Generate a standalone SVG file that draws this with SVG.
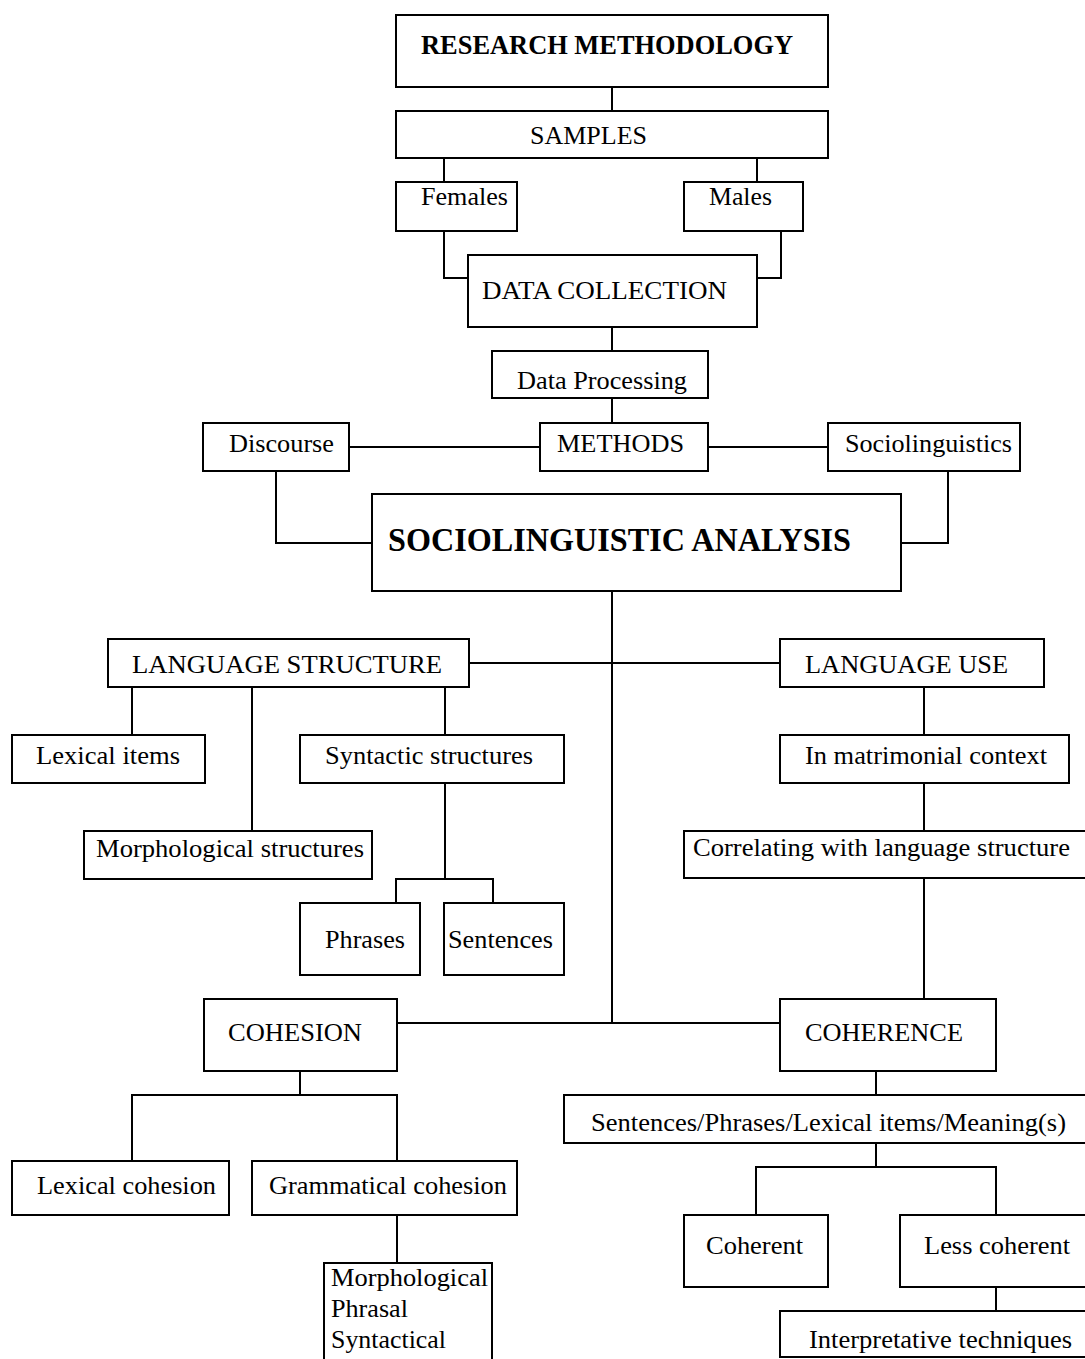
<svg xmlns="http://www.w3.org/2000/svg" width="1085" height="1359" viewBox="0 0 1085 1359">
<style>
.box{fill:#fff;stroke:#000;stroke-width:2}
.ln{fill:none;stroke:#000;stroke-width:2}
text{font-family:"Liberation Serif","Times New Roman",serif;font-size:26px;fill:#000}
.b{font-weight:bold;font-size:27px}
.big{font-weight:bold;font-size:34px}
</style>
<rect width="1085" height="1359" fill="#fff"/>
<g id="connectors">
<path class="ln" d="M612,87V111"/>
<path class="ln" d="M444,158V182M757,158V182"/>
<path class="ln" d="M444,231V278H468M781,231V278H757"/>
<path class="ln" d="M612,327V351M612,398V423"/>
<path class="ln" d="M349,447H540M708,447H828"/>
<path class="ln" d="M276,471V543H372M948,471V543H901"/>
<path class="ln" d="M612,591V1023"/>
<path class="ln" d="M469,663H780"/>
<path class="ln" d="M132,687V735M252,687V831M445,687V735"/>
<path class="ln" d="M445,783V879M396,903V879H493V903"/>
<path class="ln" d="M924,687V735M924,783V831M924,878V999"/>
<path class="ln" d="M397,1023H780"/>
<path class="ln" d="M300,1071V1095M132,1161V1095H397V1161"/>
<path class="ln" d="M397,1215V1263"/>
<path class="ln" d="M876,1071V1095M876,1143V1167M756,1215V1167H996V1215"/>
<path class="ln" d="M996,1287V1311"/>
</g>
<g id="research"><rect class="box" x="396" y="15" width="432" height="72"/><text class="b" x="421" y="54" textLength="372" lengthAdjust="spacingAndGlyphs">RESEARCH METHODOLOGY</text></g>
<g id="samples"><rect class="box" x="396" y="111" width="432" height="47"/><text x="530" y="144" textLength="117" lengthAdjust="spacingAndGlyphs">SAMPLES</text></g>
<g id="females"><rect class="box" x="396" y="182" width="121" height="49"/><text x="421" y="205" textLength="87" lengthAdjust="spacingAndGlyphs">Females</text></g>
<g id="males"><rect class="box" x="684" y="182" width="119" height="49"/><text x="709" y="205" textLength="63" lengthAdjust="spacingAndGlyphs">Males</text></g>
<g id="datacollection"><rect class="box" x="468" y="255" width="289" height="72"/><text x="482" y="299" textLength="245" lengthAdjust="spacingAndGlyphs">DATA COLLECTION</text></g>
<g id="dataprocessing"><rect class="box" x="492" y="351" width="216" height="47"/><text x="517" y="389" textLength="170" lengthAdjust="spacingAndGlyphs">Data Processing</text></g>
<g id="discourse"><rect class="box" x="203" y="423" width="146" height="48"/><text x="229" y="452" textLength="105" lengthAdjust="spacingAndGlyphs">Discourse</text></g>
<g id="methods"><rect class="box" x="540" y="423" width="168" height="48"/><text x="557" y="452" textLength="127" lengthAdjust="spacingAndGlyphs">METHODS</text></g>
<g id="sociolinguistics"><rect class="box" x="828" y="423" width="192" height="48"/><text x="845" y="452" textLength="167" lengthAdjust="spacingAndGlyphs">Sociolinguistics</text></g>
<g id="analysis"><rect class="box" x="372" y="494" width="529" height="97"/><text class="big" x="388" y="551" textLength="463" lengthAdjust="spacingAndGlyphs">SOCIOLINGUISTIC ANALYSIS</text></g>
<g id="langstructure"><rect class="box" x="108" y="639" width="361" height="48"/><text x="132" y="673" textLength="310" lengthAdjust="spacingAndGlyphs">LANGUAGE STRUCTURE</text></g>
<g id="languse"><rect class="box" x="780" y="639" width="264" height="48"/><text x="805" y="673" textLength="203" lengthAdjust="spacingAndGlyphs">LANGUAGE USE</text></g>
<g id="lexicalitems"><rect class="box" x="12" y="735" width="193" height="48"/><text x="36" y="764" textLength="144" lengthAdjust="spacingAndGlyphs">Lexical items</text></g>
<g id="syntactic"><rect class="box" x="300" y="735" width="264" height="48"/><text x="325" y="764" textLength="208" lengthAdjust="spacingAndGlyphs">Syntactic structures</text></g>
<g id="morphstructures"><rect class="box" x="84" y="831" width="288" height="48"/><text x="96" y="857" textLength="268" lengthAdjust="spacingAndGlyphs">Morphological structures</text></g>
<g id="matrimonial"><rect class="box" x="780" y="735" width="289" height="48"/><text x="805" y="764" textLength="242" lengthAdjust="spacingAndGlyphs">In matrimonial context</text></g>
<g id="correlating"><rect class="box" x="684" y="831" width="410" height="47"/><text x="693" y="856" textLength="377" lengthAdjust="spacingAndGlyphs">Correlating with language structure</text></g>
<g id="phrases"><rect class="box" x="300" y="903" width="120" height="72"/><text x="325" y="948" textLength="80" lengthAdjust="spacingAndGlyphs">Phrases</text></g>
<g id="sentences"><rect class="box" x="444" y="903" width="120" height="72"/><text x="448" y="948" textLength="105" lengthAdjust="spacingAndGlyphs">Sentences</text></g>
<g id="cohesion"><rect class="box" x="204" y="999" width="193" height="72"/><text x="228" y="1041" textLength="134" lengthAdjust="spacingAndGlyphs">COHESION</text></g>
<g id="coherence"><rect class="box" x="780" y="999" width="216" height="72"/><text x="805" y="1041" textLength="158" lengthAdjust="spacingAndGlyphs">COHERENCE</text></g>
<g id="lexicalcohesion"><rect class="box" x="12" y="1161" width="217" height="54"/><text x="37" y="1194" textLength="179" lengthAdjust="spacingAndGlyphs">Lexical cohesion</text></g>
<g id="grammaticalcohesion"><rect class="box" x="252" y="1161" width="265" height="54"/><text x="269" y="1194" textLength="238" lengthAdjust="spacingAndGlyphs">Grammatical cohesion</text></g>
<g id="cohesiontypes"><rect class="box" x="324" y="1263" width="168" height="110"/><text x="331" y="1286" textLength="157" lengthAdjust="spacingAndGlyphs">Morphological</text><text x="331" y="1317" textLength="77" lengthAdjust="spacingAndGlyphs">Phrasal</text><text x="331" y="1348" textLength="115" lengthAdjust="spacingAndGlyphs">Syntactical</text></g>
<g id="meanings"><rect class="box" x="564" y="1095" width="530" height="48"/><text x="591" y="1131" textLength="475" lengthAdjust="spacingAndGlyphs">Sentences/Phrases/Lexical items/Meaning(s)</text></g>
<g id="coherent"><rect class="box" x="684" y="1215" width="144" height="72"/><text x="706" y="1254" textLength="97" lengthAdjust="spacingAndGlyphs">Coherent</text></g>
<g id="lesscoherent"><rect class="box" x="900" y="1215" width="194" height="72"/><text x="924" y="1254" textLength="146" lengthAdjust="spacingAndGlyphs">Less coherent</text></g>
<g id="interpretative"><rect class="box" x="780" y="1311" width="314" height="46"/><text x="809" y="1348" textLength="263" lengthAdjust="spacingAndGlyphs">Interpretative techniques</text></g>
</svg>
